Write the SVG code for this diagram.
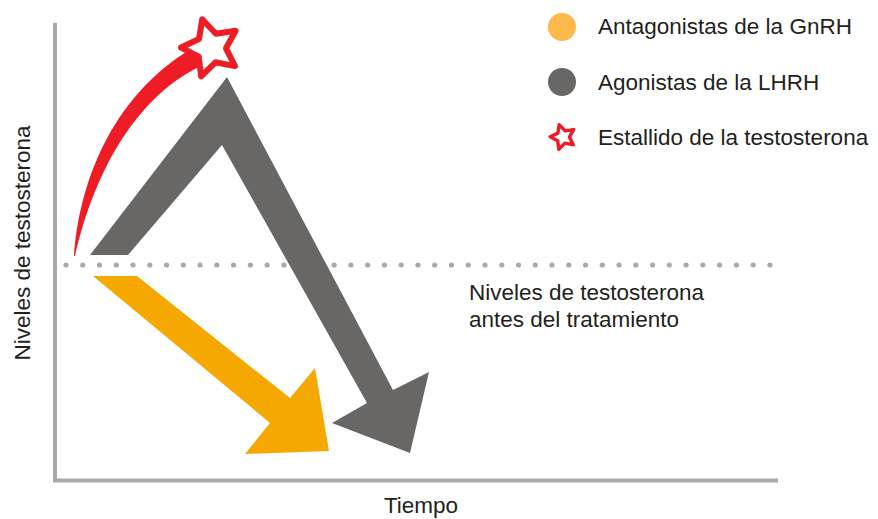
<svg xmlns="http://www.w3.org/2000/svg" xmlns:xlink="http://www.w3.org/1999/xlink" width="878" height="519" viewBox="0 0 878 519">
<style>
text{font-family:"Liberation Sans",Arial,sans-serif;font-size:22.5px;fill:#231f20}
.axis{stroke:#a7a9ac;stroke-width:4;fill:none}
.star{fill:#fff;stroke:#ee1c25;stroke-linejoin:round}
.gray{fill:#686765}
.yellow{fill:#f5a800}
</style>
<defs>
<path id="starShape" d="M-8.8,-28.7 L4.9,-14.2 L24.6,-17.2 L15,0.3 L24,18.1 L4.4,14.3 L-9.8,28.4 L-12.3,8.6 L-30,-0.5 L-12,-9 Z"/>
</defs>
<rect width="878" height="519" fill="#fff"/>
<g id="axes">
<polyline class="axis" points="55,23 55,480.5 778,480.5"/>
<text x="30" y="243" text-anchor="middle" transform="rotate(-90 30 243)" font-size="21">Niveles de testosterona</text>
<text x="421" y="513" text-anchor="middle" font-size="22.8">Tiempo</text>
</g>
<g id="baseline">
<line x1="66" y1="265" x2="771" y2="265" stroke="#a7a9ac" stroke-width="5.2" stroke-linecap="round" stroke-dasharray="0 16.76"/>
<text x="469" y="300" font-size="23">Niveles de testosterona</text>
<text x="469" y="327" font-size="23">antes del tratamiento</text>
</g>
<g id="connectors">
<polygon id="agonist-arrow" class="gray" points="90,255 227,77 393,390 429,372 410,453 332,423 367,403 222,145 128,255"/>
<polygon id="antagonist-arrow" class="yellow" points="93,276 137,276 290,398 315,368 329,451 245,454 270,423"/>
<path id="flare-tail" fill="#ee1c25" d="M74,256 C79,185 110,98 191,49 L203,65 C140,94 96,165 75,256 Z"/>
</g>
<g id="flare">
<use xlink:href="#starShape" class="star" stroke-width="6" transform="translate(211,48)"/>
</g>
<g id="legend">
<g id="legend-antagonist">
<circle cx="562" cy="27" r="14" fill="#fdb94b"/>
<text x="598" y="34">Antagonistas de la GnRH</text>
</g>
<g id="legend-agonist">
<circle cx="562" cy="82" r="14" fill="#686765"/>
<text x="598" y="90">Agonistas de la LHRH</text>
</g>
<g id="legend-flare">
<use xlink:href="#starShape" class="star" stroke-width="8" transform="translate(563,137) scale(0.43)"/>
<text x="598" y="145" font-size="23">Estallido de la testosterona</text>
</g>
</g>
</svg>
